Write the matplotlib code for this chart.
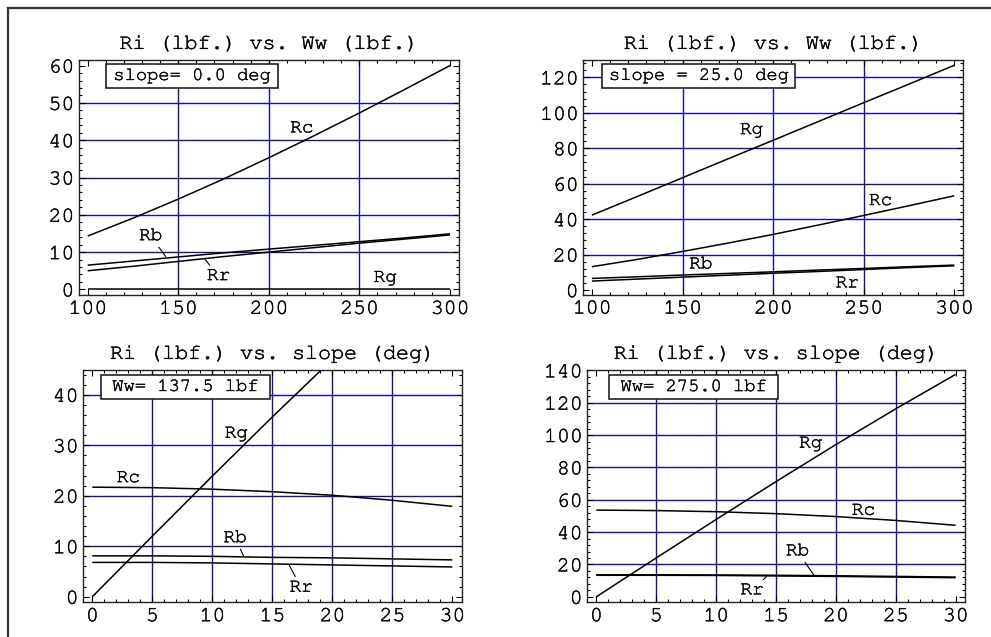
import matplotlib
matplotlib.use("Agg")
import matplotlib.pyplot as plt
import matplotlib.patheffects as pe
from matplotlib.patches import Rectangle
from matplotlib.lines import Line2D
from matplotlib.ticker import MultipleLocator
from matplotlib import font_manager

installed = {f.name for f in font_manager.fontManager.ttflist}
candidates = ['Nimbus Mono PS', 'Nimbus Mono L', 'Courier New', 'Courier',
              'FreeMono', 'Liberation Mono', 'DejaVu Sans Mono']
fams = [c for c in candidates if c in installed] or ['DejaVu Sans Mono']
plt.rcParams['font.family'] = fams

# ---------------- data ----------------
ww = [100, 125, 150, 175, 200, 225, 250, 275, 300]          # Ww (lbf)
slope = [0, 5, 10, 15, 20, 25, 30]                          # slope (deg)

# panel 1: slope = 0 deg
rc_s0 = [14.3, 19.1, 24.2, 29.6, 35.3, 41.2, 47.3, 53.6, 60.0]
rb_s0 = [6.5, 7.6, 8.7, 9.8, 10.8, 11.8, 12.8, 13.8, 14.9]
rr_s0 = [5.0, 6.2, 7.5, 8.8, 10.0, 11.2, 12.4, 13.5, 14.6]
rg_s0 = [0.0, 0.0, 0.0, 0.0, 0.0, 0.0, 0.0, 0.0, 0.0]

# panel 2: slope = 25 deg
rg_s25 = [42.3, 52.8, 63.4, 74.0, 84.5, 95.1, 105.7, 116.2, 126.8]
rc_s25 = [13.2, 17.3, 21.8, 26.5, 31.4, 36.7, 42.1, 47.6, 53.2]
rb_s25 = [6.6, 7.5, 8.5, 9.4, 10.3, 11.3, 12.2, 13.2, 14.1]
rr_s25 = [5.1, 6.2, 7.3, 8.4, 9.5, 10.5, 11.6, 12.7, 13.7]

# panel 3: Ww = 137.5 lbf
rg_w1 = [0.0, 12.0, 23.9, 35.6, 47.0, 58.1, 68.8]
rc_w1 = [21.7, 21.6, 21.3, 20.8, 20.1, 19.1, 17.9]
rb_w1 = [8.1, 8.1, 8.0, 7.8, 7.7, 7.5, 7.3]
rr_w1 = [6.8, 6.8, 6.7, 6.5, 6.3, 6.1, 5.9]

# panel 4: Ww = 275.0 lbf
rg_w2 = [0.0, 24.0, 47.8, 71.2, 94.1, 116.2, 137.5]
rc_w2 = [53.6, 53.3, 52.6, 51.4, 49.6, 47.2, 44.2]
rb_w2 = [13.6, 13.6, 13.5, 13.3, 13.0, 12.6, 12.2]
rr_w2 = [13.3, 13.3, 13.2, 12.9, 12.6, 12.2, 11.8]

titles = ["Ri (lbf.) vs. Ww (lbf.)", "Ri (lbf.) vs. Ww (lbf.)",
          "Ri (lbf.) vs. slope (deg)", "Ri (lbf.) vs. slope (deg)"]
box_texts = ["slope= 0.0 deg", "slope = 25.0 deg", "Ww= 137.5 lbf", "Ww= 275.0 lbf"]

# ---------------- layout ----------------
W, H = 991, 637
fig = plt.figure(figsize=(W / 100, H / 100), dpi=100)

def px_axes(l, t, r, b):
    return fig.add_axes([l / W, 1 - b / H, (r - l) / W, (b - t) / H])

GRID = '#14148c'
LW = 1.1
THICK = [pe.withStroke(linewidth=0.3, foreground='#111111')]

panels = [
    dict(rect=(79, 60, 459, 295), x=ww,
         series=[rc_s0, rb_s0, rr_s0, rg_s0],
         xlim=(95.2, 305.0), ylim=(-1.5, 61.5),
         xmaj=50, xmin=10, ymaj=10, ymin=2, xt=(100, 300), yt=(0, 60),
         gx=[150, 200, 250], gy=[10, 20, 30, 40, 50],
         box=(0.071, 0.882, 0.524, 0.982),
         labels=[("Rc", 218.2, 42.1, None), ("Rb", 134.8, 13.2, (143.1, 8.8)),
                 ("Rr", 172.2, 2.5, (164.9, 8.0)), ("Rg", 264.3, 2.0, None)]),
    dict(rect=(583.3, 60, 963.3, 294.7), x=ww,
         series=[rg_s25, rc_s25, rb_s25, rr_s25],
         xlim=(95.2, 305.0), ylim=(-2.6, 129.8),
         xmaj=50, xmin=10, ymaj=20, ymin=4, xt=(100, 300), yt=(0, 120),
         gx=[150, 200, 250], gy=[20, 40, 60, 80, 100, 120],
         box=(0.050, 0.882, 0.558, 0.983),
         labels=[("Rg", 188.1, 88.0, None), ("Rc", 259.3, 48.0, None),
                 ("Rb", 160.1, 12.2, None), ("Rr", 240.9, 1.5, None)]),
    dict(rect=(83.3, 370, 461.7, 602.3), x=slope,
         series=[rg_w1, rc_w1, rb_w1, rr_w1],
         xlim=(-0.75, 30.78), ylim=(-1.1, 44.9),
         xmaj=5, xmin=1, ymaj=10, ymin=2, xt=(0, 30), yt=(0, 40),
         gx=[5, 10, 15, 20, 25], gy=[10, 20, 30, 40],
         box=(0.046, 0.876, 0.493, 0.978),
         labels=[("Rg", 12.0, 31.5, None), ("Rc", 3.0, 22.7, None),
                 ("Rb", 11.9, 10.8, (12.6, 8.1)), ("Rr", 17.4, 1.0, (16.4, 6.3))]),
    dict(rect=(587.3, 370, 965.0, 602.3), x=slope,
         series=[rg_w2, rc_w2, rb_w2, rr_w2],
         xlim=(-0.75, 30.78), ylim=(-3.4, 140.2),
         xmaj=5, xmin=1, ymaj=20, ymin=4, xt=(0, 30), yt=(0, 140),
         gx=[5, 10, 15, 20, 25], gy=[20, 40, 60, 80, 100, 120],
         box=(0.057, 0.875, 0.506, 0.978),
         labels=[("Rg", 17.9, 92.2, None), ("Rc", 22.3, 50.7, None),
                 ("Rb", 16.8, 25.6, (18.2, 13.0)), ("Rr", 13.0, 1.5, (14.2, 12.4))]),
]

for i, p in enumerate(panels):
    ax = px_axes(*p['rect'])
    for g in p['gx']:
        ax.axvline(g, color=GRID, lw=1.0, zorder=1)
    for g in p['gy']:
        ax.axhline(g, color=GRID, lw=1.0, zorder=1)
    for s in p['series']:
        ax.plot(p['x'], s, color='black', lw=LW, zorder=4, solid_capstyle='butt')
    ax.xaxis.set_major_locator(MultipleLocator(p['xmaj']))
    ax.xaxis.set_minor_locator(MultipleLocator(p['xmin']))
    ax.yaxis.set_major_locator(MultipleLocator(p['ymaj']))
    ax.yaxis.set_minor_locator(MultipleLocator(p['ymin']))
    ax.tick_params(which='both', direction='in', top=True, right=True,
                   labelsize=15.5, width=0.8, colors='black')
    ax.tick_params(axis='x', pad=3.5)
    ax.tick_params(axis='y', pad=3.5)
    ax.tick_params(which='major', length=4.5)
    ax.tick_params(which='minor', length=2.5)
    xt = [v for v in range(p['xt'][0], p['xt'][1] + 1, p['xmaj'])]
    yt = [v for v in range(p['yt'][0], p['yt'][1] + 1, p['ymaj'])]
    ax.set_xticks(xt)
    ax.set_yticks(yt)
    ax.set_xlim(*p['xlim'])
    ax.set_ylim(*p['ylim'])
    for lab in ax.get_xticklabels() + ax.get_yticklabels():
        lab.set_path_effects(THICK)
    for sp in ax.spines.values():
        sp.set_linewidth(1.0)
        sp.set_color('#222222')
    t = ax.set_title(titles[i], fontsize=15.6, pad=8)
    t.set_path_effects(THICK)

    bx0, by0, bx1, by1 = p['box']
    ax.add_patch(Rectangle((bx0, by0), bx1 - bx0, by1 - by0, transform=ax.transAxes,
                           facecolor='white', edgecolor='#222222', lw=1.2, zorder=5))
    ax.text((bx0 + bx1) / 2, (by0 + by1) / 2, box_texts[i], transform=ax.transAxes,
            ha='center', va='center', fontsize=13.5, zorder=6, path_effects=THICK)

    for name, lx, ly, tgt in p['labels']:
        if tgt is None:
            ax.text(lx, ly, name, ha='center', va='baseline', fontsize=14,
                    zorder=6, path_effects=THICK)
        else:
            ax.annotate(name, xy=tgt, xytext=(lx, ly), ha='center', va='baseline',
                        fontsize=14, zorder=6, path_effects=THICK,
                        arrowprops=dict(arrowstyle='-', color='black', lw=0.8,
                                        shrinkA=1, shrinkB=0))

# outer frame (top and left edges visible)
fig.add_artist(Line2D([7.5 / W, 7.5 / W], [0, 1 - 7.5 / H], transform=fig.transFigure,
                      color='#333333', lw=1.6))
fig.add_artist(Line2D([7.5 / W, 1], [1 - 7.5 / H, 1 - 7.5 / H], transform=fig.transFigure,
                      color='#333333', lw=1.6))

fig.savefig('out.png', dpi=100, facecolor='white')
